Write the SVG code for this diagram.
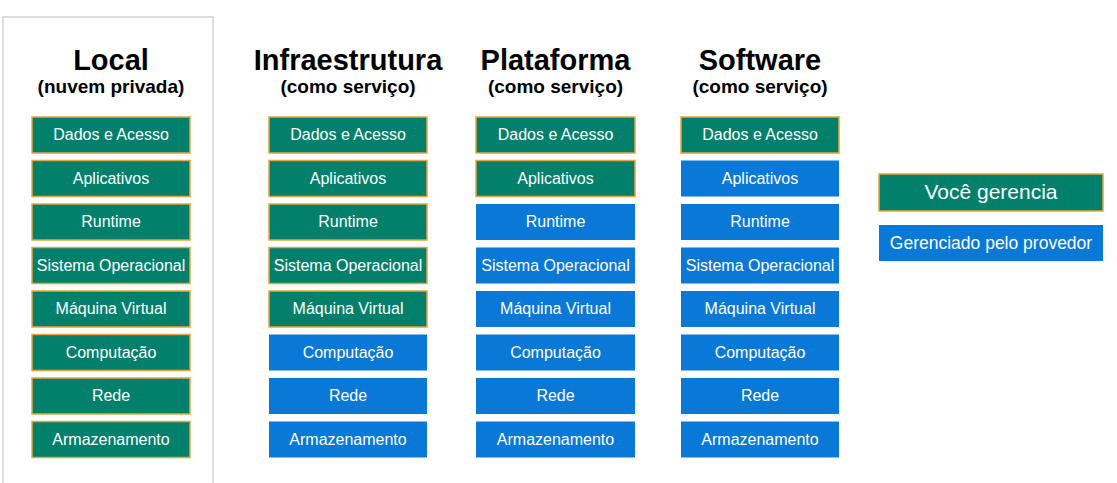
<svg xmlns="http://www.w3.org/2000/svg" width="1117" height="483" viewBox="0 0 1117 483">
<style>
.g{fill:#03806b;stroke:#e9a53d;stroke-width:1.5}
.b{fill:#0a78d6}
.t{font-family:"Liberation Sans",Arial,sans-serif;font-size:16px;fill:#fff;text-anchor:middle}
.h{font-family:"Liberation Sans",Arial,sans-serif;font-weight:bold;font-size:29px;fill:#000;text-anchor:middle}
.s{font-family:"Liberation Sans",Arial,sans-serif;font-weight:bold;font-size:19px;fill:#000;text-anchor:middle}
</style>
<rect width="1117" height="483" fill="#fff"/>
<rect x="3" y="17" width="210" height="470" fill="#fff" stroke="#c8c8c8" stroke-width="1.2"/>
<g id="col-local">
<text class="h" x="111" y="70">Local</text>
<text class="s" x="111" y="93">(nuvem privada)</text>
<rect class="g" x="32" y="117" width="158" height="36"/><text class="t" x="111" y="140">Dados e Acesso</text>
<rect class="g" x="32" y="160.5" width="158" height="36"/><text class="t" x="111" y="183.5">Aplicativos</text>
<rect class="g" x="32" y="204" width="158" height="36"/><text class="t" x="111" y="227">Runtime</text>
<rect class="g" x="32" y="247.5" width="158" height="36"/><text class="t" x="111" y="270.5">Sistema Operacional</text>
<rect class="g" x="32" y="291" width="158" height="36"/><text class="t" x="111" y="314">Máquina Virtual</text>
<rect class="g" x="32" y="334.5" width="158" height="36"/><text class="t" x="111" y="357.5">Computação</text>
<rect class="g" x="32" y="378" width="158" height="36"/><text class="t" x="111" y="401">Rede</text>
<rect class="g" x="32" y="421.5" width="158" height="36"/><text class="t" x="111" y="444.5">Armazenamento</text>
</g>
<g id="col-iaas">
<text class="h" x="348" y="70">Infraestrutura</text>
<text class="s" x="348" y="93">(como serviço)</text>
<rect class="g" x="269" y="117" width="158" height="36"/><text class="t" x="348" y="140">Dados e Acesso</text>
<rect class="g" x="269" y="160.5" width="158" height="36"/><text class="t" x="348" y="183.5">Aplicativos</text>
<rect class="g" x="269" y="204" width="158" height="36"/><text class="t" x="348" y="227">Runtime</text>
<rect class="g" x="269" y="247.5" width="158" height="36"/><text class="t" x="348" y="270.5">Sistema Operacional</text>
<rect class="g" x="269" y="291" width="158" height="36"/><text class="t" x="348" y="314">Máquina Virtual</text>
<rect class="b" x="269" y="334.5" width="158" height="36"/><text class="t" x="348" y="357.5">Computação</text>
<rect class="b" x="269" y="378" width="158" height="36"/><text class="t" x="348" y="401">Rede</text>
<rect class="b" x="269" y="421.5" width="158" height="36"/><text class="t" x="348" y="444.5">Armazenamento</text>
</g>
<g id="col-paas">
<text class="h" x="555.5" y="70">Plataforma</text>
<text class="s" x="555.5" y="93">(como serviço)</text>
<rect class="g" x="476" y="117" width="159" height="36"/><text class="t" x="555.5" y="140">Dados e Acesso</text>
<rect class="g" x="476" y="160.5" width="159" height="36"/><text class="t" x="555.5" y="183.5">Aplicativos</text>
<rect class="b" x="476" y="204" width="159" height="36"/><text class="t" x="555.5" y="227">Runtime</text>
<rect class="b" x="476" y="247.5" width="159" height="36"/><text class="t" x="555.5" y="270.5">Sistema Operacional</text>
<rect class="b" x="476" y="291" width="159" height="36"/><text class="t" x="555.5" y="314">Máquina Virtual</text>
<rect class="b" x="476" y="334.5" width="159" height="36"/><text class="t" x="555.5" y="357.5">Computação</text>
<rect class="b" x="476" y="378" width="159" height="36"/><text class="t" x="555.5" y="401">Rede</text>
<rect class="b" x="476" y="421.5" width="159" height="36"/><text class="t" x="555.5" y="444.5">Armazenamento</text>
</g>
<g id="col-saas">
<text class="h" x="760" y="70">Software</text>
<text class="s" x="760" y="93">(como serviço)</text>
<rect class="g" x="681" y="117" width="158" height="36"/><text class="t" x="760" y="140">Dados e Acesso</text>
<rect class="b" x="681" y="160.5" width="158" height="36"/><text class="t" x="760" y="183.5">Aplicativos</text>
<rect class="b" x="681" y="204" width="158" height="36"/><text class="t" x="760" y="227">Runtime</text>
<rect class="b" x="681" y="247.5" width="158" height="36"/><text class="t" x="760" y="270.5">Sistema Operacional</text>
<rect class="b" x="681" y="291" width="158" height="36"/><text class="t" x="760" y="314">Máquina Virtual</text>
<rect class="b" x="681" y="334.5" width="158" height="36"/><text class="t" x="760" y="357.5">Computação</text>
<rect class="b" x="681" y="378" width="158" height="36"/><text class="t" x="760" y="401">Rede</text>
<rect class="b" x="681" y="421.5" width="158" height="36"/><text class="t" x="760" y="444.5">Armazenamento</text>
</g>
<g id="legend">
<rect class="g" x="879" y="174" width="224" height="37"/><text class="t" x="991" y="199" style="font-size:21px">Você gerencia</text>
<rect class="b" x="879" y="225" width="224" height="36"/><text class="t" x="991" y="249" style="font-size:17.5px">Gerenciado pelo provedor</text>
</g>
<g id="connectors"></g>
</svg>
